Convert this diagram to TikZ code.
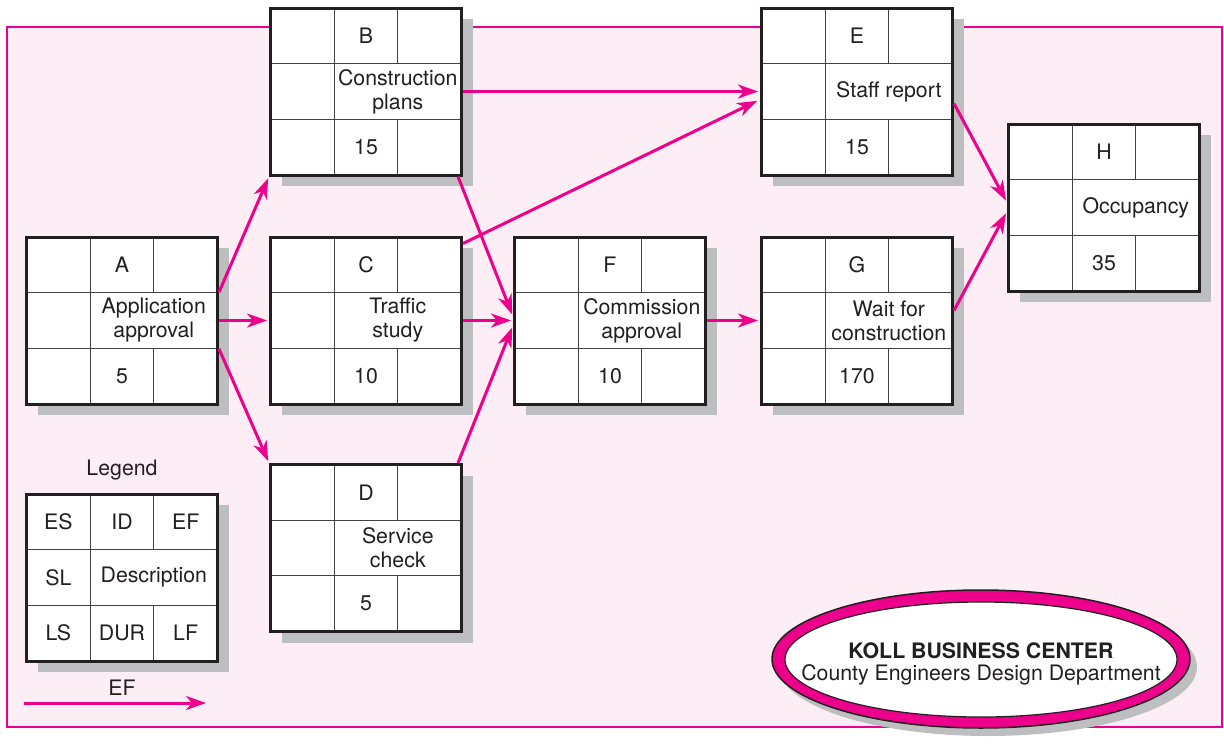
\documentclass[tikz,border=0pt]{standalone}
\usepackage{fontspec}
\setmainfont{TeX Gyre Heros}
\usetikzlibrary{arrows.meta,shadows,calc,shapes.geometric}
\definecolor{mag}{HTML}{EC008C}
\definecolor{bgpink}{HTML}{FDEDF4}
\definecolor{shgray}{HTML}{BCBEC0}
\definecolor{ink}{HTML}{231F20}
\tikzset{
  taskbox/.style={draw=ink, line width=3pt, fill=white, minimum width=191pt, minimum height=167pt, inner sep=0pt,
    drop shadow={shadow xshift=11pt, shadow yshift=-11pt, fill=shgray, opacity=1}},
  gridline/.style={draw=ink!85, line width=1.2pt},
  lbl/.style={font=\fontsize{21.3}{24}\selectfont, align=center, inner sep=0pt, text=ink},
  flow/.style={draw=mag, line width=3pt, -{Stealth[length=20pt, width=14pt, inset=6pt]}},
}
\newcommand{\taskgrid}[4]{%
  \begin{scope}[shift={(#1.center)}]
    \draw[gridline] (-94,-27.83) -- (94,-27.83);
    \draw[gridline] (-94,27.83) -- (94,27.83);
    \draw[gridline] (-31.83,-82) -- (-31.83,82);
    \draw[gridline] (31.83,-82) -- (31.83,-27.83);
    \draw[gridline] (31.83,27.83) -- (31.83,82);
    \node[lbl] (#1-id) at (0,-55.67) {#2};
    \node[lbl] (#1-desc) at (31.83,0) {#3};
    \node[lbl] (#1-dur) at (0,55.67) {#4};
  \end{scope}}
\begin{document}
\begin{tikzpicture}[x=1pt,y=-1pt]
\useasboundingbox (0,0) rectangle (1224,747);
\draw[draw=mag, line width=2pt, fill=bgpink] (7,27) rectangle (1222,727);

% task boxes
\node[taskbox] (A) at (122,320.5) {};
\node[taskbox] (B) at (366,91.5) {};
\node[taskbox] (C) at (366,320.5) {};
\node[taskbox] (D) at (366,548) {};
\node[taskbox] (E) at (857,91.5) {};
\node[taskbox] (F) at (610,320.5) {};
\node[taskbox] (G) at (857,320.5) {};
\node[taskbox] (H) at (1104,207.5) {};
\node[taskbox] (L) at (122,577.5) {};

\taskgrid{A}{A}{Application\\approval}{5}
\taskgrid{B}{B}{Construction\\plans}{15}
\taskgrid{C}{C}{Traffic\\study}{10}
\taskgrid{D}{D}{Service\\check}{5}
\taskgrid{E}{E}{Staff report}{15}
\taskgrid{F}{F}{Commission\\approval}{10}
\taskgrid{G}{G}{Wait for\\construction}{170}
\taskgrid{H}{H}{Occupancy}{35}
\taskgrid{L}{ID}{Description}{DUR}
\node[lbl] (L-es) at ($(L.center)+(-63.67,-55.67)$) {ES};
\node[lbl] (L-ef) at ($(L.center)+(63.67,-55.67)$) {EF};
\node[lbl] (L-sl) at ($(L.center)+(-63.67,0)$) {SL};
\node[lbl] (L-ls) at ($(L.center)+(-63.67,55.67)$) {LS};
\node[lbl] (L-lf) at ($(L.center)+(63.67,55.67)$) {LF};
\node[lbl] (legend) at (122,470) {Legend};

% legend arrow
\coordinate (efs) at (24,703);
\coordinate (efe) at (206,703);
\draw[flow] (efs) -- (efe);
\node[lbl] (eflbl) at (122,688) {EF};

% connectors
\draw[flow, shorten >=2pt] ($(A.north east)!1/3!(A.south east)$) -- (B.south west);
\draw[flow, shorten >=2pt] (A.east) -- (C.west);
\draw[flow, shorten >=2pt] ($(A.north east)!2/3!(A.south east)$) -- (D.north west);
\draw[flow, shorten >=2pt] (B.east) -- (E.west);
\draw[flow, shorten >=2pt] ($(B.south east)+(-5,0)$) -- ($(F.west)+(0,-4)$);
\draw[flow, shorten >=3pt] ($(C.north east)+(0,8)$) -- ($(E.west)+(0,8)$);
\draw[flow, shorten >=2pt] (C.east) -- (F.west);
\draw[flow, shorten >=2pt] ($(D.north east)+(-5,0)$) -- ($(F.west)+(0,5)$);
\draw[flow, shorten >=2pt] (F.east) -- (G.west);
\draw[flow, shorten >=2pt] ($(E.east)+(0,12)$) -- ($(H.west)+(0,-5)$);
\draw[flow, shorten >=2pt] ($(G.east)+(0,-10)$) -- ($(H.west)+(0,4)$);

% title ellipse
\node[ellipse, draw=ink, line width=1.5pt, fill=mag, minimum width=418pt, minimum height=138pt,
  drop shadow={shadow xshift=7pt, shadow yshift=-8pt, fill=shgray, opacity=1}] (logo) at (981,659) {};
\node[ellipse, draw=ink, line width=1.2pt, fill=white, minimum width=392pt, minimum height=115pt] (logoin) at (981,659.5) {};
\node[lbl, font=\fontsize{21.3}{24}\selectfont\bfseries] (t1) at (981,651) {KOLL BUSINESS CENTER};
\node[lbl] (t2) at (981,675) {County Engineers Design Department};
\end{tikzpicture}
\end{document}
